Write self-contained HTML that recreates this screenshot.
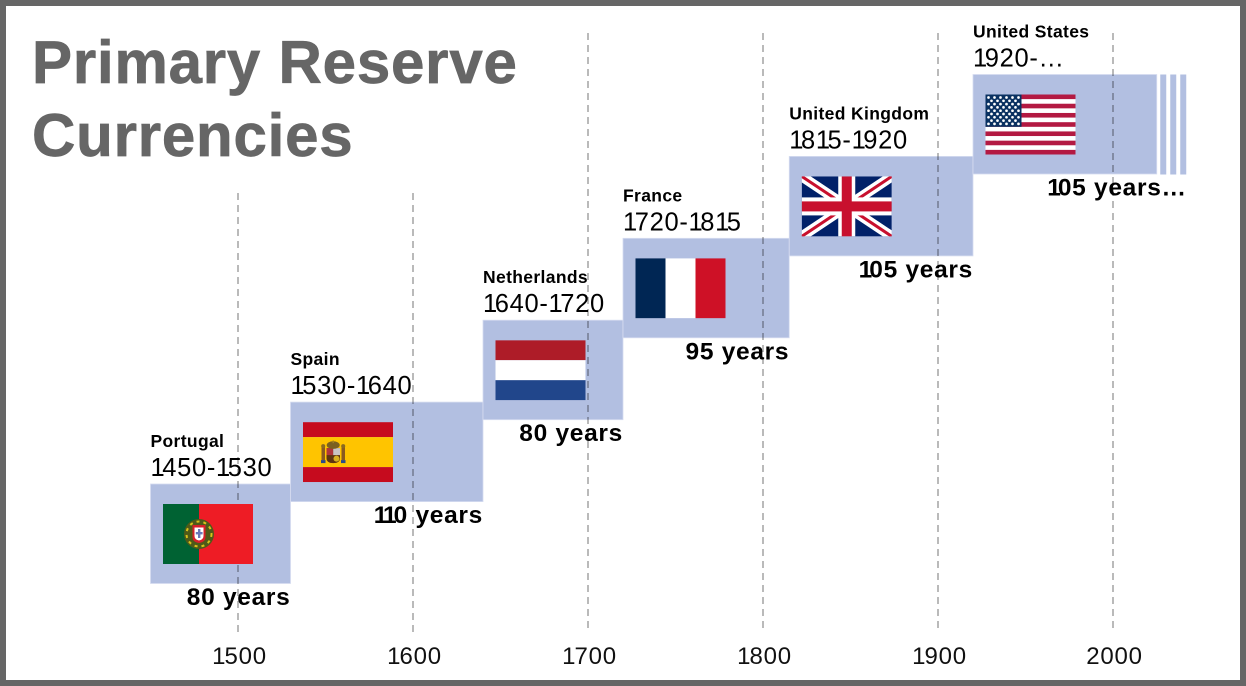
<!DOCTYPE html>
<html lang="en">
<head>
<meta charset="utf-8">
<title>Primary Reserve Currencies</title>
<style>
html,body{margin:0;padding:0;background:#fff}
#chart{display:block;width:1246px;height:686px;font-family:"Liberation Sans",sans-serif}
.title{font-size:60px;font-weight:700;fill:#666;stroke:#666;stroke-width:.7px;letter-spacing:.8px}
.name{font-size:17.5px;font-weight:700;fill:#000;letter-spacing:.35px}
.range{font-size:25.5px;fill:#000;letter-spacing:.7px}
.dur{font-size:24.5px;font-weight:700;fill:#000;letter-spacing:.7px}
.tick{font-size:24px;fill:#111;letter-spacing:.8px}
</style>
</head>
<body>
<svg id="chart" xmlns="http://www.w3.org/2000/svg" width="1246" height="686" viewBox="0 0 1246 686">
<rect x="3" y="3" width="1240" height="680" fill="#fff" stroke="#666" stroke-width="6"/>
<text class="title" x="32" y="83">Primary Reserve</text>
<text class="title" x="32" y="156">Currencies</text>
<g id="grid"></g>
<g id="bars"></g>
<g id="labels"></g>
</svg>
<script>
const countries = ["Portugal","Spain","Netherlands","France","United Kingdom","United States"];
const flagKeys = ["pt","es","nl","fr","uk","us"];
const startYears = [1450,1530,1640,1720,1815,1920];
const endYears = [1530,1640,1720,1815,1920,2025];
const rangeLabels = ["1450-1530","1530-1640","1640-1720","1720-1815","1815-1920","1920-…"];
const durationLabels = ["80 years","110 years","80 years","95 years","105 years","105 years…"];
const tickYears = [1500,1600,1700,1800,1900,2000];

const NS = "http://www.w3.org/2000/svg";
const xScale = y => 238 + (y - 1500) * 1.75;
const rowTop = i => 484 - i * 81.9;
const BAR_H = 99.5;

function mk(tag, attrs, parent, text){
  const el = document.createElementNS(NS, tag);
  for (const k in attrs) el.setAttribute(k, attrs[k]);
  if (text !== undefined) el.textContent = text;
  if (parent) parent.appendChild(el);
  return el;
}
/* The digit 1 is narrower in the reference face: tighten the space after it. */
function setDigits(el, str, oneSpacing){
  str.split(/(1)/).forEach(part => {
    if (!part) return;
    if (part === '1') mk('tspan', {style:'letter-spacing:' + oneSpacing + 'px'}, el, part);
    else mk('tspan', {}, el, part);
  });
}
const gridG = document.getElementById('grid');
const barsG = document.getElementById('bars');
const labelsG = document.getElementById('labels');

function rects(g, list){
  list.forEach(r => {
    const el = mk('rect', {x:r[0], y:r[1], width:r[2], height:r[3], fill:r[4]}, g);
    
    
  });
}
const painters = {
  pt(g){
    rects(g, [[0,0,36,60,'#006233'],[36,0,54,60,'#ee1c25']]);
    mk('circle',{cx:36,cy:30,r:15,fill:'#4f5a18'},g);
    mk('circle',{cx:36,cy:30,r:12.5,fill:'none',stroke:'#d8c21a','stroke-width':2,'stroke-dasharray':'3 4'},g);
    mk('path',{d:'M29.5 21H42.5V33Q42.5 38 36 39Q29.5 38 29.5 33Z',fill:'#d8202a'},g);
    mk('path',{d:'M31.5 23.5H40.5V32Q40.5 35.5 36 36.5Q31.5 35.5 31.5 32Z',fill:'#fff'},g);
    mk('rect',{x:35,y:25,width:2.4,height:9,fill:'#6a78b8'},g);
    mk('rect',{x:32.8,y:28,width:6.8,height:2.4,fill:'#6a78b8'},g);
  },
  es(g){
    rects(g, [[0,0,90,15,'#c60b1e'],[0,15,90,30,'#ffc400'],[0,45,90,15,'#c60b1e']]);
    mk('rect',{x:18.5,y:25,width:3.5,height:13,fill:'#8a5a20'},g);
    mk('rect',{x:38.5,y:25,width:3.5,height:13,fill:'#8a5a20'},g);
    mk('circle',{cx:20.2,cy:24,r:2,fill:'#8a6a20'},g);
    mk('circle',{cx:40.2,cy:24,r:2,fill:'#8a6a20'},g);
    mk('path',{d:'M23.5 26H37V36Q37 41 30.2 41Q23.5 41 23.5 36Z',fill:'#5e3510'},g);
    mk('rect',{x:23.5,y:26,width:6.7,height:7,fill:'#b0353a'},g);
    mk('rect',{x:30.2,y:26,width:6.8,height:7,fill:'#c9c4c4'},g);
    mk('circle',{cx:33.5,cy:36.5,r:3,fill:'#d8b020'},g);
    mk('ellipse',{cx:30.2,cy:23,rx:6.5,ry:3.8,fill:'#7a6020'},g);
    mk('rect',{x:29.5,y:18.5,width:1.5,height:2.5,fill:'#a08020'},g);
    mk('rect',{x:18,y:38,width:4.5,height:3,fill:'#2a4a8a'},g);
    mk('rect',{x:38,y:38,width:4.5,height:3,fill:'#2a4a8a'},g);
  },
  nl(g){ rects(g, [[0,0,90,20,'#ae1c28'],[0,20,90,20,'#fff'],[0,40,90,20,'#21468b']]); },
  fr(g){ rects(g, [[0,0,30,60,'#002654'],[30,0,30,60,'#fff'],[60,0,30,60,'#ce1126']]); },
  uk(g){
    rects(g, [[0,0,90,60,'#012169']]);
    mk('path',{d:'M0 0L90 60M90 0L0 60',stroke:'#fff','stroke-width':10},g);
    mk('path',{d:'M0 0L90 60M90 0L0 60',stroke:'#c8102e','stroke-width':3},g);
    rects(g, [[36.5,0,17,60,'#fff'],[0,21,90,18,'#fff'],[40,0,10,60,'#c8102e'],[0,25,90,10,'#c8102e']]);
  },
  us(g){
    const h = 60 / 13;
    const list = [[0,0,90,60,'#fff']];
    for (let s = 0; s < 13; s += 2) list.push([0, s * h, 90, h, '#b31942']);
    list.push([0,0,36,h*7,'#0a3161']);
    rects(g, list);
    for (let r = 0; r < 9; r++) {
      const n = r % 2 ? 5 : 6;
      for (let c = 0; c < n; c++) {
        mk('circle',{cx:(r % 2 ? 6 : 3) + c * 6, cy:3 + r * 3.3, r:1.35,fill:'#fff'},g);
      }
    }
  }
};

tickYears.forEach(t => {
  const x = xScale(t);
  const line = mk('line',{x1:x,x2:x,y1:t < 1700 ? 193 : 33,y2:632,stroke:'#000','stroke-opacity':.36,'stroke-width':1.5,'stroke-dasharray':'7 5'},gridG);
  
  
  const lab = mk('text',{class:'tick',x:x+1.5,y:664,'text-anchor':'middle'},labelsG);
  setDigits(lab, String(t), -1);
  
  
});

countries.forEach((name,i) => {
  const x0 = xScale(startYears[i]), x1 = xScale(endYears[i]), top = rowTop(i);
  const bar = mk('rect',{x:x0,y:top,width:x1-x0,height:BAR_H,fill:'#b2bfe1',stroke:'#d6ddf0','stroke-width':.8},gridG.parentNode);
  
  
  gridG.parentNode.insertBefore(bar, gridG);

  if (i === countries.length - 1) {
    [3.5,13.5,23.5].forEach(off => {
      const st = mk('rect',{x:x1+off,y:top,width:6,height:BAR_H+.5,fill:'#b2bfe1'},gridG.parentNode);
      
      
      gridG.parentNode.insertBefore(st, gridG);
    });
  }

  const flag = mk('svg',{x:x0+12.5,y:top+20,width:90,height:60,viewBox:'0 0 90 60'},barsG);
  
  
  painters[flagKeys[i]](flag);

  const nm = mk('text',{class:'name',x:x0,y:top-37},labelsG,name);
  
  
  const rg = mk('text',{class:'range',x:x0,y:top-8},labelsG);
  setDigits(rg, rangeLabels[i], -2.5);
  
  
  const dEnd = i === countries.length - 1 ? x1 + 30 : x1;
  const du = mk('text',{class:'dur',x:dEnd,y:top+121,'text-anchor':'end'},labelsG);
  setDigits(du, durationLabels[i], -3);
  
  
});
</script>
</body>
</html>
